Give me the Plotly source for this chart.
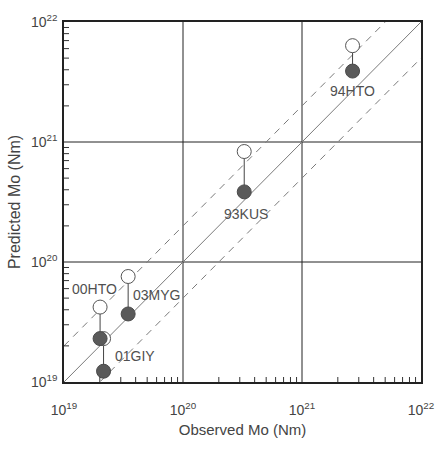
import math
import plotly.graph_objects as go

# ---- data ----
events = ["94HTO", "93KUS", "03MYG", "00HTO", "01GIY"]
observed = [2.66e21, 3.27e20, 3.46e19, 2.01e19, 2.15e19]
predicted_open = [6.35e21, 8.33e20, 7.57e19, 4.21e19, 2.30e19]
predicted_filled = [3.90e21, 3.84e20, 3.69e19, 2.30e19, 1.23e19]
decades = [1e19, 1e20, 1e21, 1e22]
decade_text = ["10<sup>19</sup>", "10<sup>20</sup>", "10<sup>21</sup>", "10<sup>22</sup>"]
minor_vals = [m * d for d in [1e19, 1e20, 1e21] for m in range(2, 10)]
ref_ratios = [1.0, 2.0, 0.5]

# label offsets (pixels) relative to the filled / open marker
label_anchor = ["filled", "filled", "open", "open", "filled"]
label_dx = [0, 2, 28, -6, 31]
label_dy = [-20, -22, -18, 18, 15]

FONT = "Liberation Sans, Arial, Helvetica, sans-serif"
TICK_LEN = 5

fig = go.Figure()

# reference lines
for r in ref_ratios:
    xs = [1e18, 1e23]
    ys = [v * r for v in xs]
    fig.add_trace(go.Scatter(
        x=xs, y=ys, mode="lines",
        line=dict(color="#7a7a7a", width=1,
                  dash="solid" if r == 1.0 else "7px,6px"),
        hoverinfo="skip", showlegend=False))

# decade grid lines
for d in decades[1:-1]:
    fig.add_shape(type="line", xref="x", yref="paper", x0=d, x1=d, y0=0, y1=1,
                  line=dict(color="#222222", width=1), layer="below")
    fig.add_shape(type="line", xref="paper", yref="y", x0=0, x1=1, y0=d, y1=d,
                  line=dict(color="#222222", width=1), layer="below")

# minor ticks (inside, bottom and left axes)
for m in minor_vals:
    fig.add_shape(type="line", xref="x", yref="paper", x0=m, x1=m,
                  ysizemode="pixel", yanchor=0, y0=0, y1=TICK_LEN,
                  line=dict(color="#333333", width=1))
    fig.add_shape(type="line", xref="paper", yref="y", y0=m, y1=m,
                  xsizemode="pixel", xanchor=0, x0=0, x1=TICK_LEN,
                  line=dict(color="#333333", width=1))

# connectors
cx, cy = [], []
for o, p1, p2 in zip(observed, predicted_open, predicted_filled):
    cx += [o, o, None]
    cy += [p1, p2, None]
fig.add_trace(go.Scatter(x=cx, y=cy, mode="lines",
                         line=dict(color="#444444", width=1),
                         hoverinfo="skip", showlegend=False))

fig.add_trace(go.Scatter(
    x=observed, y=predicted_open, mode="markers",
    marker=dict(size=14, color="white", line=dict(color="#555555", width=1)),
    showlegend=False))
fig.add_trace(go.Scatter(
    x=observed, y=predicted_filled, mode="markers",
    marker=dict(size=14, color="#5a5a5a", line=dict(color="#4a4a4a", width=1)),
    showlegend=False))

for name, o, po, pf, anc, dx, dy in zip(events, observed, predicted_open,
                                        predicted_filled, label_anchor,
                                        label_dx, label_dy):
    yv = pf if anc == "filled" else po
    fig.add_annotation(x=math.log10(o), y=math.log10(yv), text=name,
                       showarrow=False, xshift=dx, yshift=dy,
                       font=dict(family=FONT, size=14, color="#505050"))

axis_common = dict(
    type="log", range=[19, 22],
    tickmode="array", tickvals=decades, ticktext=decade_text,
    showline=True, mirror=True, linecolor="#222222", linewidth=1.5,
    ticks="", showgrid=False, zeroline=False,
    tickfont=dict(family=FONT, size=14, color="#444444"),
)

fig.update_layout(
    width=446, height=449,
    margin=dict(l=64, r=20, t=17, b=67),
    paper_bgcolor="white", plot_bgcolor="white",
    showlegend=False,
    xaxis=dict(**axis_common,
               title=dict(text="Observed Mo (Nm)", standoff=8,
                          font=dict(family=FONT, size=15, color="#444444")),
               ticklabelstandoff=14),
    yaxis=dict(**axis_common,
               title=dict(text="Predicted Mo (Nm)", standoff=6,
                          font=dict(family=FONT, size=16, color="#444444")),
               ticklabelstandoff=2),
)

fig.write_html("out.html")
